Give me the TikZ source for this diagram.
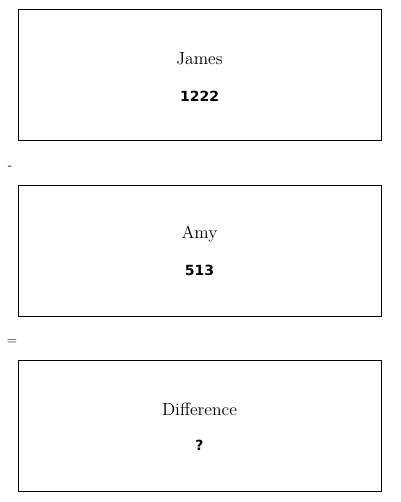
\documentclass[tikz,border=0pt]{standalone}
\usepackage{fontspec}
\newfontfamily\numfont{DejaVu Sans}
\begin{document}
\begin{tikzpicture}[x=0.75pt,y=-0.75pt]
        \useasboundingbox (0,0) rectangle (400,502);

        \begin{scope}[every node/.style={draw,line width=0.75pt,inner sep=0pt,
            minimum width=272.25pt,minimum height=98.25pt}]
          \node (box1) at (199.5,75.5)  {};
          \node (box2) at (199.5,250.5) {};
          \node (box3) at (199.5,425.5) {};
        \end{scope}

        \begin{scope}[every node/.style={font=\fontsize{13.2}{15}\selectfont}]
          \node (name1) at (199.5,59)  {James};
          \node (name2) at (199.5,234) {Amy};
          \node (name3) at (199.5,409) {Difference};
        \end{scope}

        \begin{scope}[every node/.style={font=\numfont\bfseries\fontsize{10.5}{12}\selectfont}]
          \node (num1) at (199.5,96)  {1222};
          \node (num2) at (199.5,270) {513};
          \node (num3) at (199.5,445) {?};
        \end{scope}

        \node (minus)  at (10,168) {-};
        \node (equals) at (12,342) {=};

      \end{tikzpicture}
\end{document}
